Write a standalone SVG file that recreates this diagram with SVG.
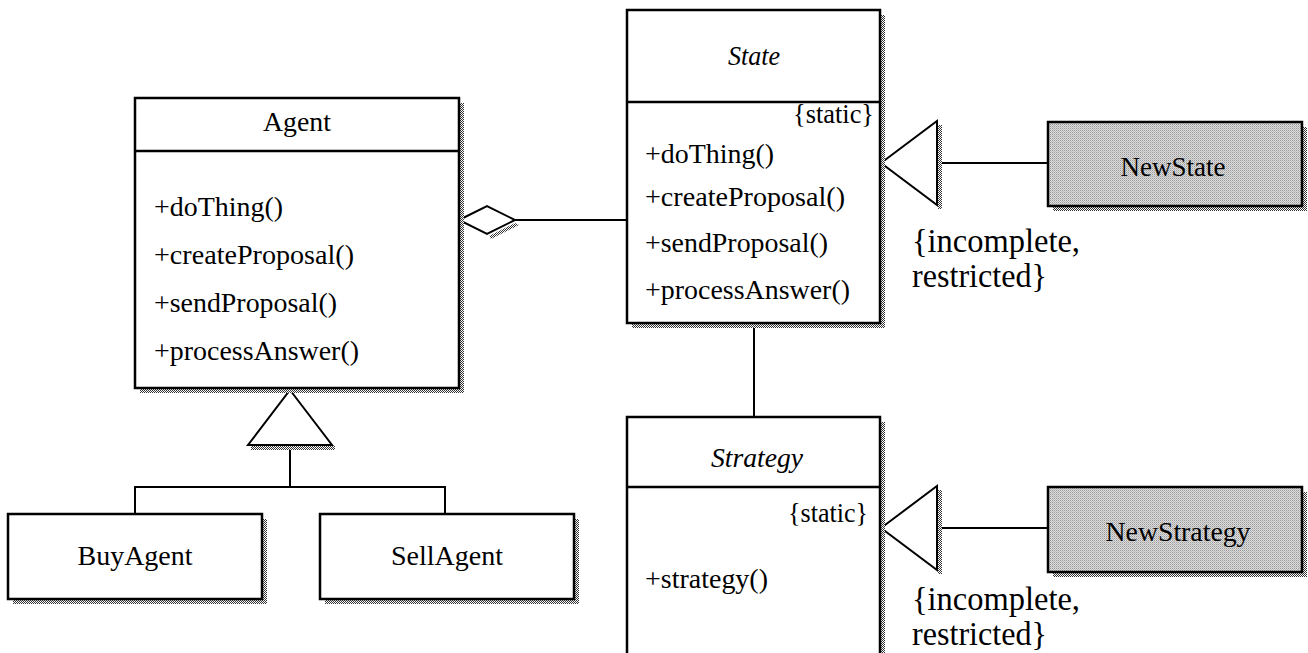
<svg xmlns="http://www.w3.org/2000/svg" width="1308" height="653" viewBox="0 0 1308 653">
  <defs>
    <pattern id="dither" width="2" height="2" patternUnits="userSpaceOnUse">
      <rect width="2" height="2" fill="#ffffff"/>
      <rect width="1" height="1" fill="#333333"/>
      <rect x="1" y="1" width="1" height="1" fill="#333333"/>
    </pattern>
    <pattern id="lightdither" width="2" height="2" patternUnits="userSpaceOnUse">
      <rect width="2" height="2" fill="#dddddd"/>
      <rect width="1" height="1" fill="#999999"/>
      <rect x="1" y="1" width="1" height="1" fill="#bbbbbb"/>
    </pattern>
  </defs>
  <style>
    .box { fill: #ffffff; stroke: #000000; stroke-width: 2.5; }
    .gbox { fill: url(#lightdither); stroke: #000000; stroke-width: 2.5; }
    .shadow { fill: url(#dither); stroke: none; }
    .div { stroke: #000000; stroke-width: 2.5; }
    .line { stroke: #000000; stroke-width: 2; fill: none; }
    .head { fill: #ffffff; stroke: #000000; stroke-width: 2; }
    .t { font-family: "Liberation Serif", "Times New Roman", serif; font-size: 28px; fill: #000000; }
    .ti { font-family: "Liberation Serif", "Times New Roman", serif; font-size: 28px; font-style: italic; fill: #000000; }
    .lbl { font-family: "Liberation Serif", "Times New Roman", serif; font-size: 34px; fill: #000000; }
  </style>

  <rect width="1308" height="653" fill="#ffffff"/>

  <g id="connectors">
    <!-- aggregation Agent - State -->
    <line class="line" x1="515" y1="220" x2="627" y2="220"/>
    <polygon class="shadow" points="489,236 515,223 519,225 491,239"/>
    <polygon class="head" points="459,220 487,206 515,220 487,234"/>
    <!-- State - Strategy -->
    <line class="line" x1="754" y1="323" x2="754" y2="417"/>
    <!-- Agent generalization -->
    <line class="line" x1="290" y1="445" x2="290" y2="487"/>
    <polyline class="line" points="135,515 135,487 445,487 445,515"/>
    <rect class="shadow" x="251" y="446" width="84" height="4"/>
    <polygon class="head" points="290,390 332,445 248,445"/>
    <!-- NewState generalization -->
    <line class="line" x1="937" y1="163" x2="1048" y2="163"/>
    <rect class="shadow" x="938" y="125" width="4" height="84"/>
    <polygon class="head" points="881,163 937,121 937,205"/>
    <!-- NewStrategy generalization -->
    <line class="line" x1="937" y1="528" x2="1048" y2="528"/>
    <rect class="shadow" x="938" y="490" width="4" height="84"/>
    <polygon class="head" points="881,528 937,486 937,570"/>
  </g>

  <g id="Agent">
    <rect class="shadow" x="140" y="103" width="324" height="290"/>
    <rect class="box" x="135" y="98" width="324" height="290"/>
    <line class="div" x1="135" y1="151" x2="459" y2="151"/>
    <text class="t" x="297" y="131" text-anchor="middle" textLength="68" lengthAdjust="spacingAndGlyphs">Agent</text>
    <text class="t" x="154" y="216" textLength="129" lengthAdjust="spacingAndGlyphs">+doThing()</text>
    <text class="t" x="154" y="264" textLength="200" lengthAdjust="spacingAndGlyphs">+createProposal()</text>
    <text class="t" x="154" y="312" textLength="183" lengthAdjust="spacingAndGlyphs">+sendProposal()</text>
    <text class="t" x="154" y="360" textLength="205" lengthAdjust="spacingAndGlyphs">+processAnswer()</text>
  </g>

  <g id="BuyAgent">
    <rect class="shadow" x="13" y="519" width="254" height="85"/>
    <rect class="box" x="8" y="514" width="254" height="85"/>
    <text class="t" x="135" y="565" text-anchor="middle" textLength="115" lengthAdjust="spacingAndGlyphs">BuyAgent</text>
  </g>

  <g id="SellAgent">
    <rect class="shadow" x="325" y="519" width="254" height="85"/>
    <rect class="box" x="320" y="514" width="254" height="85"/>
    <text class="t" x="447" y="565" text-anchor="middle" textLength="112" lengthAdjust="spacingAndGlyphs">SellAgent</text>
  </g>

  <g id="State">
    <rect class="shadow" x="632" y="15" width="253" height="313"/>
    <rect class="box" x="627" y="10" width="253" height="313"/>
    <line class="div" x1="627" y1="102" x2="880" y2="102"/>
    <text class="ti" x="754" y="65" text-anchor="middle" textLength="52" lengthAdjust="spacingAndGlyphs">State</text>
    <text class="t" x="874" y="123" text-anchor="end" textLength="81" lengthAdjust="spacingAndGlyphs">{static}</text>
    <text class="t" x="645" y="163" textLength="129" lengthAdjust="spacingAndGlyphs">+doThing()</text>
    <text class="t" x="645" y="206" textLength="200" lengthAdjust="spacingAndGlyphs">+createProposal()</text>
    <text class="t" x="645" y="252" textLength="183" lengthAdjust="spacingAndGlyphs">+sendProposal()</text>
    <text class="t" x="645" y="299" textLength="205" lengthAdjust="spacingAndGlyphs">+processAnswer()</text>
  </g>

  <g id="Strategy">
    <rect class="shadow" x="632" y="422" width="253" height="300"/>
    <rect class="box" x="627" y="417" width="253" height="300"/>
    <line class="div" x1="627" y1="487" x2="880" y2="487"/>
    <text class="ti" x="757" y="467" text-anchor="middle" textLength="92" lengthAdjust="spacingAndGlyphs">Strategy</text>
    <text class="t" x="868" y="522" text-anchor="end" textLength="80" lengthAdjust="spacingAndGlyphs">{static}</text>
    <text class="t" x="645" y="588" textLength="123" lengthAdjust="spacingAndGlyphs">+strategy()</text>
  </g>

  <g id="NewState">
    <rect class="shadow" x="1053" y="127" width="254" height="84"/>
    <rect class="gbox" x="1048" y="122" width="254" height="84"/>
    <text class="t" x="1173" y="176" text-anchor="middle" textLength="105" lengthAdjust="spacingAndGlyphs">NewState</text>
  </g>

  <g id="NewStrategy">
    <rect class="shadow" x="1053" y="492" width="254" height="85"/>
    <rect class="gbox" x="1048" y="487" width="254" height="85"/>
    <text class="t" x="1178" y="541" text-anchor="middle" textLength="145" lengthAdjust="spacingAndGlyphs">NewStrategy</text>
  </g>

  <g id="labels">
    <text class="lbl" x="912" y="252" textLength="168" lengthAdjust="spacingAndGlyphs">{incomplete,</text>
    <text class="lbl" x="912" y="287" textLength="135" lengthAdjust="spacingAndGlyphs">restricted}</text>
    <text class="lbl" x="912" y="610" textLength="168" lengthAdjust="spacingAndGlyphs">{incomplete,</text>
    <text class="lbl" x="912" y="645" textLength="135" lengthAdjust="spacingAndGlyphs">restricted}</text>
  </g>
</svg>
